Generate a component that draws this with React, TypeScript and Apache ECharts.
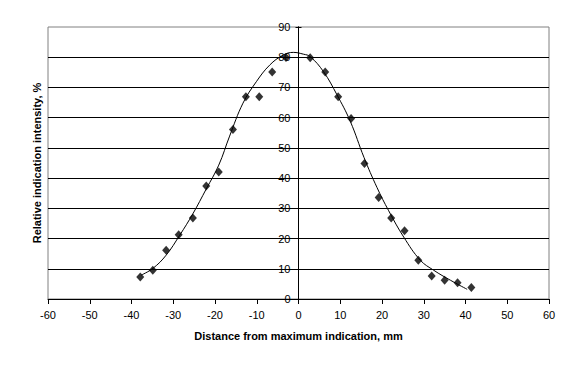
import React, { useEffect, useRef } from "react";
import * as echarts from "echarts";

const pointX = [-37.9, -34.9, -31.7, -28.7, -25.3, -22.1, -19.1, -15.7, -12.6, -9.4, -6.3, -3.0, 2.8, 6.4, 9.5, 12.6, 15.8, 19.2, 22.2, 25.4, 28.7, 31.9, 35.0, 38.1, 41.4];
const pointY = [7.3, 9.5, 16.1, 21.3, 26.8, 37.4, 42.0, 56.1, 66.9, 66.9, 75.1, 79.9, 79.8, 75.1, 66.9, 59.7, 44.8, 33.6, 26.8, 22.6, 12.8, 7.6, 6.2, 5.4, 3.8];

const curveX = [-37.7, -34.9, -31.7, -28.5, -25.3, -22.1, -19.1, -16.5, -13.3, -10.1, -6.9, -3.7, -1.25, 1.2, 2.8, 6.0, 9.2, 12.4, 15.7, 18.8, 21.6, 25.2, 29.2, 32.4, 36.4, 40.4];
const curveY = [7.9, 10.1, 14.5, 21.0, 28.2, 36.4, 44.3, 53.9, 64.8, 71.9, 77.4, 80.7, 81.6, 81.0, 80.2, 75.2, 67.6, 58.8, 46.8, 36.9, 29.2, 20.5, 12.8, 9.5, 6.2, 3.2];

const xTicks = { min: -60, max: 60, interval: 10 };
const yTicks = { min: 0, max: 90, interval: 10 };

const xName = "Distance from maximum indication, mm";
const yName = "Relative indication intensity, %";

const FONT = "'Liberation Sans', Arial, sans-serif";

const GRID_LEFT = 48;
const GRID_RIGHT = 27;
const CHART_W = 576;

export default function App() {
  const ref = useRef<HTMLDivElement>(null);
  useEffect(() => {
    if (!ref.current) return;
    const chart = echarts.init(ref.current, undefined, { renderer: "svg" });
    const plotW = CHART_W - GRID_LEFT - GRID_RIGHT;
    const zeroOffset = -((0 - xTicks.min) / (xTicks.max - xTicks.min)) * plotW;
    chart.setOption({
      animation: false,
      backgroundColor: "#ffffff",
      textStyle: { fontFamily: FONT },
      grid: {
        left: GRID_LEFT,
        right: GRID_RIGHT,
        top: 27,
        bottom: 66,
        show: true,
        borderColor: "#808080",
        borderWidth: 1,
        backgroundColor: "transparent",
      },
      xAxis: {
        type: "value",
        min: xTicks.min,
        max: xTicks.max,
        interval: xTicks.interval,
        name: xName,
        nameLocation: "middle",
        nameGap: 31,
        nameTextStyle: { fontFamily: FONT, fontSize: 11, fontWeight: "bold", color: "#000" },
        axisLine: { onZero: false, lineStyle: { color: "#000", width: 1 } },
        axisTick: { show: true, length: 5, lineStyle: { color: "#000" } },
        axisLabel: { color: "#000", fontSize: 11, fontFamily: FONT, margin: 10 },
        splitLine: { show: false },
      },
      yAxis: [
        {
          type: "value",
          position: "left",
          offset: zeroOffset,
          min: yTicks.min,
          max: yTicks.max,
          interval: yTicks.interval,
          axisLine: { show: true, onZero: false, lineStyle: { color: "#000", width: 1 } },
          axisTick: { show: true, inside: true, length: 3, lineStyle: { color: "#000" } },
          axisLabel: { color: "#000", fontSize: 11, fontFamily: FONT, margin: 8 },
          splitLine: { show: true, showMinLine: false, showMaxLine: false, lineStyle: { color: "#000", width: 1 } },
          z: 3,
        },
        {
          type: "value",
          position: "left",
          offset: zeroOffset,
          min: yTicks.min,
          max: yTicks.max,
          interval: yTicks.interval,
          axisLine: { show: true, onZero: false, lineStyle: { color: "#000", width: 1 } },
          axisTick: { show: true, inside: false, length: 3, lineStyle: { color: "#000" } },
          axisLabel: { show: false },
          splitLine: { show: false },
          z: 3,
        },
      ],
      graphic: [
        {
          type: "text",
          x: 37,
          y: 163,
          rotation: Math.PI / 2,
          style: {
            text: yName,
            fontFamily: FONT,
            fontSize: 11,
            fontWeight: "bold",
            fill: "#000",
            align: "center",
            verticalAlign: "middle",
          },
        },
      ],
      series: [
        {
          type: "line",
          yAxisIndex: 0,
          data: curveX.map((x, i) => [x, curveY[i]]),
          smooth: 0.4,
          showSymbol: false,
          lineStyle: { color: "#000", width: 1 },
          z: 2,
        },
        {
          type: "scatter",
          yAxisIndex: 0,
          data: pointX.map((x, i) => [x, pointY[i]]),
          symbol: "diamond",
          symbolSize: [8, 9],
          itemStyle: { color: "#000" },
          z: 3,
        },
      ],
    });
    return () => chart.dispose();
  }, []);
  return <div ref={ref} style={{ position: "fixed", left: 0, top: 0, width: CHART_W, height: 365 }} />;
}
